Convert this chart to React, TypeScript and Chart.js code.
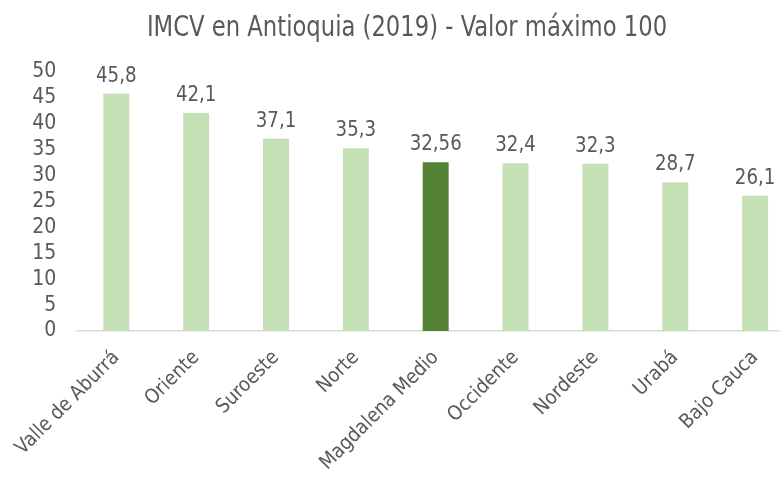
import React, { useEffect, useRef } from "react";
import { Chart, registerables } from "chart.js";

Chart.register(...registerables);

const categories = [
  "Valle de Aburrá",
  "Oriente",
  "Suroeste",
  "Norte",
  "Magdalena Medio",
  "Occidente",
  "Nordeste",
  "Urabá",
  "Bajo Cauca",
];
const values = [45.8, 42.1, 37.1, 35.3, 32.56, 32.4, 32.3, 28.7, 26.1];
const valueLabels = ["45,8", "42,1", "37,1", "35,3", "32,56", "32,4", "32,3", "28,7", "26,1"];
const highlightIndex = 4;
const titleText = "IMCV en Antioquia (2019) - Valor máximo 100";

const FONT = "'DejaVu Sans Condensed', 'Liberation Sans Narrow', sans-serif";
const TEXT = "#595959";

const dataLabelPlugin = {
  id: "dataLabels",
  afterDatasetsDraw(chart: any) {
    const ctx = chart.ctx;
    const meta = chart.getDatasetMeta(0);
    ctx.save();
    ctx.font = `22px ${FONT}`;
    ctx.fillStyle = TEXT;
    ctx.textAlign = "center";
    ctx.textBaseline = "alphabetic";
    meta.data.forEach((bar: any, i: number) => {
      ctx.save();
      ctx.translate(bar.x, bar.y - 12);
      ctx.scale(0.92, 1);
      ctx.fillText(valueLabels[i], 0, 0);
      ctx.restore();
    });
    ctx.restore();
  },
};

const titlePlugin = {
  id: "narrowTitle",
  afterDraw(chart: any) {
    const ctx = chart.ctx;
    ctx.save();
    ctx.font = `29px ${FONT}`;
    ctx.fillStyle = TEXT;
    ctx.textAlign = "center";
    ctx.textBaseline = "alphabetic";
    ctx.translate(407, 36);
    ctx.scale(0.87, 1);
    ctx.fillText(titleText, 0, 0);
    ctx.restore();
  },
};

export default function App() {
  const ref = useRef<HTMLCanvasElement>(null);
  useEffect(() => {
    if (!ref.current) return;
    const chart = new Chart(ref.current, {
      type: "bar",
      data: {
        labels: categories,
        datasets: [
          {
            data: values,
            backgroundColor: values.map((_, i) => (i === highlightIndex ? "#548235" : "#c5e0b4")),
            barPercentage: 0.65,
            categoryPercentage: 0.5,
          },
        ],
      },
      options: {
        responsive: false,
        animation: false,
        layout: { padding: { left: 0, right: 0, top: 72, bottom: 0 } },
        plugins: {
          legend: { display: false },
          tooltip: { enabled: false },
          title: { display: false },
        },
        scales: {
          y: {
            min: 0,
            max: 50,
            ticks: {
              stepSize: 5,
              autoSkip: false,
              color: TEXT,
              font: { family: FONT, size: 21 },
              padding: 20,
            },
            grid: { display: false, drawTicks: false },
            border: { display: false },
            afterFit: (s: any) => {
              s.width = 75;
            },
          },
          x: {
            ticks: {
              color: TEXT,
              font: { family: FONT, size: 20 },
              maxRotation: 45,
              minRotation: 45,
              autoSkip: false,
              padding: 15,
            },
            grid: { display: false, drawTicks: false },
            border: { display: true, color: "#d9d9d9", width: 1.5 },
            afterFit: (s: any) => {
              s.height = 146;
            },
          },
        },
      },
      plugins: [dataLabelPlugin, titlePlugin],
    });
    return () => chart.destroy();
  }, []);
  return (
    <div
      style={{
        position: "fixed",
        left: 0,
        top: 0,
        width: 780,
        height: 477,
        overflow: "hidden",
        background: "#fff",
      }}
    >
      <canvas ref={ref} width={795} height={477} style={{ width: 795, height: 477 }} />
    </div>
  );
}
